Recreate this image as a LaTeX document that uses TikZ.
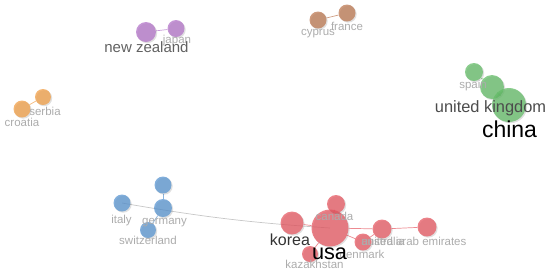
\documentclass[tikz,border=0pt]{standalone}
\usepackage{fontspec}
\setmainfont{Liberation Sans}
\usetikzlibrary{backgrounds,shadows}
\definecolor{cpurple}{RGB}{178,115,200}
\definecolor{corange}{RGB}{240,158,70}
\definecolor{cbrown}{RGB}{188,120,82}
\definecolor{cgreen}{RGB}{100,188,104}
\definecolor{cblue}{RGB}{88,148,208}
\definecolor{cred}{RGB}{230,88,98}
\definecolor{lightlab}{RGB}{172,172,172}
\begin{document}
\begin{tikzpicture}[x=1pt,y=-1pt,
  bub/.style 2 args={circle, inner sep=0pt, minimum size=#2, fill=#1, fill opacity=0.75, draw=none,
     drop shadow={shadow xshift=1.2pt, shadow yshift=-1.2pt, opacity=0.12, fill=black}},
  lnk/.style={draw=#1, line width=0.7pt},
  lab/.style={anchor=base, inner sep=0pt, text=lightlab, font=\fontsize{11.5}{12}\selectfont},
  labm/.style={anchor=base, inner sep=0pt, text=black!70, font=\fontsize{15}{16}\selectfont},
  labb/.style={anchor=base, inner sep=0pt, text=black, font=\fontsize{22}{24}\selectfont}]
\useasboundingbox (0,0) rectangle (550,277);
% purple
\node[bub={cpurple}{20pt}] (nz) at (146,32) {};
\node[bub={cpurple}{17pt}] (jp) at (176,28.5) {};
% orange
\node[bub={corange}{16pt}] (rs) at (43,97) {};
\node[bub={corange}{17pt}] (hr) at (22,109) {};
% brown
\node[bub={cbrown}{17pt}] (cy) at (318,20) {};
\node[bub={cbrown}{17pt}] (fr) at (347,13) {};
% green
\node[bub={cgreen}{18pt}] (es) at (474,72) {};
\node[bub={cgreen}{24pt}] (uk) at (492,87) {};
\node[bub={cgreen}{34pt}] (cn) at (509,105) {};
% blue
\node[bub={cblue}{17pt}] (bt) at (163,185) {};
\node[bub={cblue}{17pt}] (it) at (122,203) {};
\node[bub={cblue}{18pt}] (de) at (163,208) {};
\node[bub={cblue}{16pt}] (ch) at (148,230) {};
% red
\node[bub={cred}{23pt}] (kr) at (292,223) {};
\node[bub={cred}{37pt}] (us) at (330,228) {};
\node[bub={cred}{18pt}] (ca) at (336,204) {};
\node[bub={cred}{16pt}] (kz) at (310,254) {};
\node[bub={cred}{19pt}] (au) at (382,229) {};
\node[bub={cred}{17pt}] (dk) at (363,242) {};
\node[bub={cred}{19pt}] (ae) at (427,227) {};
\begin{pgfonlayer}{background}
\draw[lnk=cpurple!70] (nz) -- (jp);
\draw[lnk=corange!70] (rs) -- (hr);
\draw[lnk=cbrown!70] (cy) -- (fr);
\draw[lnk=cgreen!70] (es) -- (uk);
\draw[lnk=cgreen!70] (uk) -- (cn);
\draw[lnk=cblue!70] (de) -- (bt);
\draw[lnk=cblue!70] (de) -- (ch);
\draw[lnk=black!22] (it.center) to[bend right=3] (us.center);
\draw[lnk=cred!70] (kr) -- (us);
\draw[lnk=cred!70] (ca) -- (us);
\draw[lnk=cred!70] (kz) -- (us);
\draw[lnk=cred!70] (us) -- (au);
\draw[lnk=cred!70] (au) -- (ae);
\draw[lnk=cred!70] (us) -- (dk);
\draw[lnk=cred!70] (dk) -- (au);
\end{pgfonlayer}
% labels
\node[lab] (ljp) at (177,43) {japan};
\node[labm, text=black!62] (lnz) at (146.5,52) {new zealand};
\node[lab] (lrs) at (45,115) {serbia};
\node[lab] (lhr) at (22,126) {croatia};
\node[lab] (lfr) at (347,30) {france};
\node[lab] (lcy) at (318,35) {cyprus};
\node[lab] (les) at (473,88) {spain};
\node[labm, font=\fontsize{16.4}{17}\selectfont] (luk) at (490.5,112) {united kingdom};
\node[labb, font=\fontsize{23}{24}\selectfont] (lcn) at (509.5,137) {china};
\node[lab] (lit) at (121.5,223) {italy};
\node[lab] (ldee) at (164.5,224) {germany};
\node[lab] (lch) at (148,244) {switzerland};
\node[lab] (lca) at (334.5,220) {canada};
\node[lab] (lkz) at (314.5,268) {kazakhstan};
\node[lab] (ldk) at (362,258) {denmark};
\node[lab] (lae) at (414,245) {united arab emirates};
\node[lab] (lau) at (383,245) {australia};
\node[labm, font=\fontsize{16}{17}\selectfont, text=black!80] (lkr) at (290,245) {korea};
\node[labb, font=\fontsize{21.7}{23}\selectfont] (lus) at (329.5,259) {usa};
\end{tikzpicture}
\end{document}
